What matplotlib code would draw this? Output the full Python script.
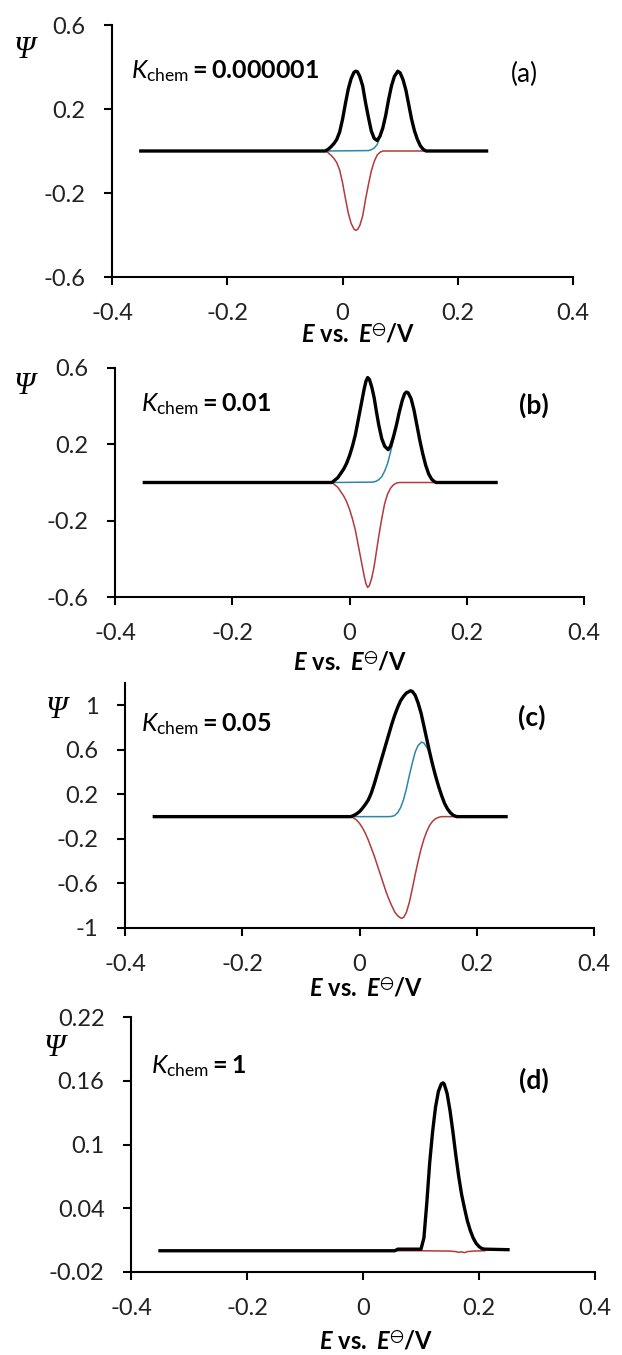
import matplotlib
matplotlib.use("Agg")
import matplotlib.pyplot as plt
from matplotlib.ticker import FixedLocator, FixedFormatter

plt.rcParams['font.family'] = ['Lato', 'DejaVu Sans']
plt.rcParams['axes.unicode_minus'] = False
plt.rcParams['mathtext.fontset'] = 'custom'
plt.rcParams['mathtext.rm'] = 'Lato'
plt.rcParams['mathtext.it'] = 'Lato:italic'
plt.rcParams['mathtext.bf'] = 'Lato:bold'
plt.rcParams['mathtext.bfit'] = 'Lato:italic:bold'
plt.rcParams['mathtext.fallback'] = 'stixsans'

# ---------------- data ----------------
x_ticks = [-0.4, -0.2, 0.0, 0.2, 0.4]
x_tick_labels = ["-0.4", "-0.2", "0", "0.2", "0.4"]

# (a) K_chem = 0.000001
e_net_a = [-0.35, -0.03, -0.025, -0.02, -0.015, -0.01, -0.005, 0.0, 0.005, 0.01, 0.015, 0.02,
           0.023, 0.026, 0.03, 0.035, 0.04, 0.045, 0.05, 0.055, 0.06, 0.065, 0.07, 0.075, 0.08,
           0.085, 0.09, 0.096, 0.1, 0.105, 0.11, 0.115, 0.12, 0.125, 0.13, 0.135, 0.14, 0.145, 0.25]
psi_net_a = [0, 0, 0.008, 0.02, 0.035, 0.055, 0.09, 0.15, 0.225, 0.295, 0.345, 0.375,
             0.38, 0.377, 0.355, 0.31, 0.23, 0.16, 0.095, 0.06, 0.05, 0.07, 0.11, 0.17, 0.245,
             0.31, 0.355, 0.38, 0.372, 0.34, 0.29, 0.22, 0.15, 0.095, 0.055, 0.025, 0.008, 0, 0]
e_rev_a = [-0.03, -0.025, -0.02, -0.015, -0.01, -0.005, 0.0, 0.005, 0.01, 0.015, 0.02, 0.023,
           0.026, 0.03, 0.035, 0.04, 0.045, 0.05, 0.055, 0.06, 0.065, 0.07, 0.145]
psi_rev_a = [0, -0.008, -0.02, -0.035, -0.055, -0.09, -0.15, -0.225, -0.295, -0.345, -0.372, -0.378,
             -0.374, -0.355, -0.31, -0.23, -0.16, -0.095, -0.05, -0.02, -0.006, 0, 0]
e_fwd_a = [-0.03, 0.045, 0.05, 0.055, 0.06, 0.065, 0.07, 0.075, 0.08, 0.085, 0.09, 0.096, 0.1,
           0.105, 0.11, 0.115, 0.12, 0.125, 0.13, 0.135, 0.14, 0.145]
psi_fwd_a = [0, 0.002, 0.006, 0.014, 0.03, 0.064, 0.11, 0.17, 0.245, 0.31, 0.355, 0.38, 0.372,
             0.34, 0.29, 0.22, 0.15, 0.095, 0.055, 0.025, 0.008, 0]

# (b) K_chem = 0.01
e_net_b = [-0.35, -0.03, -0.02, -0.01, -0.005, 0.0, 0.005, 0.01, 0.015, 0.02, 0.025, 0.028, 0.031,
           0.034, 0.038, 0.042, 0.046, 0.05, 0.055, 0.06, 0.066, 0.07, 0.075, 0.08, 0.085, 0.09,
           0.094, 0.097, 0.1, 0.105, 0.11, 0.115, 0.12, 0.125, 0.13, 0.135, 0.14, 0.145, 0.148, 0.25]
psi_net_b = [0, 0, 0.025, 0.07, 0.10, 0.14, 0.19, 0.25, 0.33, 0.41, 0.49, 0.53, 0.55,
             0.54, 0.50, 0.445, 0.37, 0.30, 0.23, 0.19, 0.172, 0.19, 0.24, 0.30, 0.37, 0.43,
             0.465, 0.474, 0.47, 0.44, 0.38, 0.30, 0.22, 0.15, 0.09, 0.045, 0.018, 0.004, 0, 0]
e_rev_b = [-0.03, -0.02, -0.01, -0.005, 0.0, 0.005, 0.01, 0.015, 0.02, 0.025, 0.028, 0.031, 0.034,
           0.038, 0.042, 0.046, 0.05, 0.055, 0.06, 0.065, 0.07, 0.075, 0.08, 0.085, 0.148]
psi_rev_b = [0, -0.025, -0.07, -0.10, -0.14, -0.19, -0.25, -0.33, -0.41, -0.49, -0.53, -0.55, -0.54,
             -0.50, -0.44, -0.36, -0.28, -0.19, -0.11, -0.06, -0.03, -0.012, -0.003, 0, 0]
e_fwd_b = [-0.03, 0.04, 0.045, 0.05, 0.055, 0.06, 0.065, 0.07, 0.075, 0.08, 0.085, 0.09, 0.094,
           0.097, 0.1, 0.105, 0.11, 0.115, 0.12, 0.125, 0.13, 0.135, 0.14, 0.145, 0.148]
psi_fwd_b = [0, 0.002, 0.006, 0.015, 0.03, 0.06, 0.10, 0.16, 0.225, 0.30, 0.37, 0.43, 0.465,
             0.474, 0.47, 0.44, 0.38, 0.30, 0.22, 0.15, 0.09, 0.045, 0.018, 0.004, 0]

# (c) K_chem = 0.05
e_net_c = [-0.35, -0.015, -0.01, -0.005, 0.0, 0.005, 0.01, 0.015, 0.02, 0.025, 0.03, 0.035, 0.04,
           0.045, 0.05, 0.055, 0.06, 0.065, 0.07, 0.075, 0.08, 0.087, 0.09, 0.095, 0.1, 0.105,
           0.11, 0.115, 0.12, 0.125, 0.13, 0.135, 0.14, 0.145, 0.15, 0.155, 0.16, 0.166, 0.25]
psi_net_c = [0, 0, 0.01, 0.025, 0.045, 0.075, 0.11, 0.15, 0.21, 0.29, 0.38, 0.47, 0.56,
             0.65, 0.74, 0.83, 0.91, 0.98, 1.04, 1.08, 1.11, 1.13, 1.125, 1.09, 1.02, 0.93,
             0.81, 0.69, 0.57, 0.46, 0.36, 0.27, 0.19, 0.12, 0.07, 0.035, 0.012, 0, 0]
e_rev_c = [-0.015, -0.01, -0.005, 0.0, 0.005, 0.01, 0.015, 0.02, 0.025, 0.03, 0.035, 0.04, 0.045,
           0.05, 0.055, 0.06, 0.065, 0.07, 0.073, 0.076, 0.08, 0.085, 0.09, 0.095, 0.1, 0.105,
           0.11, 0.115, 0.12, 0.125, 0.13, 0.135, 0.14, 0.166]
psi_rev_c = [0, -0.012, -0.03, -0.06, -0.10, -0.15, -0.21, -0.28, -0.35, -0.43, -0.51, -0.59, -0.67,
             -0.74, -0.80, -0.855, -0.89, -0.91, -0.912, -0.90, -0.86, -0.77, -0.65, -0.52, -0.40, -0.29,
             -0.20, -0.13, -0.075, -0.04, -0.018, -0.006, 0, 0]
e_fwd_c = [-0.015, 0.05, 0.055, 0.06, 0.065, 0.07, 0.075, 0.08, 0.085, 0.09, 0.095, 0.1, 0.106,
           0.11, 0.115, 0.12, 0.125, 0.13, 0.135, 0.14, 0.145, 0.15, 0.155, 0.16, 0.166]
psi_fwd_c = [0, 0, 0.002, 0.01, 0.035, 0.08, 0.15, 0.25, 0.37, 0.48, 0.58, 0.64, 0.67,
             0.66, 0.62, 0.57, 0.46, 0.36, 0.27, 0.19, 0.12, 0.07, 0.035, 0.012, 0]

# (d) K_chem = 1
e_net_d = [-0.35, 0.055, 0.06, 0.10, 0.105, 0.11, 0.115, 0.12, 0.125, 0.13, 0.135, 0.138, 0.14,
           0.145, 0.15, 0.155, 0.16, 0.165, 0.17, 0.175, 0.18, 0.185, 0.19, 0.195, 0.2, 0.205,
           0.21, 0.25]
psi_net_d = [0, 0, 0.0015, 0.0015, 0.012, 0.045, 0.083, 0.112, 0.135, 0.150, 0.157, 0.158, 0.157,
             0.148, 0.132, 0.112, 0.090, 0.070, 0.053, 0.040, 0.028, 0.019, 0.012, 0.007, 0.004, 0.002,
             0.0015, 0.001]
e_rev_d = [0.06, 0.10, 0.15, 0.16, 0.165, 0.17, 0.175, 0.18, 0.19, 0.21]
psi_rev_d = [0, 0, -0.0003, -0.0008, -0.0015, -0.001, -0.0018, -0.0008, -0.0003, 0]

panels = [
    dict(tag="(a)", tag_bold=False, k="0.000001",
         yticks=[-0.6, -0.2, 0.2, 0.6], ylabels=["-0.6", "-0.2", "0.2", "0.6"], ylim=(-0.6, 0.6),
         net=(e_net_a, psi_net_a), rev=(e_rev_a, psi_rev_a), fwd=(e_fwd_a, psi_fwd_a)),
    dict(tag="(b)", tag_bold=True, k="0.01",
         yticks=[-0.6, -0.2, 0.2, 0.6], ylabels=["-0.6", "-0.2", "0.2", "0.6"], ylim=(-0.6, 0.6),
         net=(e_net_b, psi_net_b), rev=(e_rev_b, psi_rev_b), fwd=(e_fwd_b, psi_fwd_b)),
    dict(tag="(c)", tag_bold=True, k="0.05",
         yticks=[-1, -0.6, -0.2, 0.2, 0.6, 1], ylabels=["-1", "-0.6", "-0.2", "0.2", "0.6", "1"],
         ylim=(-1.0, 1.2),
         net=(e_net_c, psi_net_c), rev=(e_rev_c, psi_rev_c), fwd=(e_fwd_c, psi_fwd_c)),
    dict(tag="(d)", tag_bold=True, k="1",
         yticks=[-0.02, 0.04, 0.1, 0.16, 0.22], ylabels=["-0.02", "0.04", "0.1", "0.16", "0.22"],
         ylim=(-0.02, 0.22),
         net=(e_net_d, psi_net_d), rev=(e_rev_d, psi_rev_d), fwd=None),
]

# ---------------- layout (pixels) ----------------
W, H = 622, 1355
boxes = [  # left, top, right, bottom of each plotting area
    (112, 25, 573, 277),
    (115, 368, 584, 597),
    (125, 683, 594, 928),
    (131, 1017, 595, 1272),
]
psi_pos = [(25, 50), (25, 387), (57, 711), (55, 1048)]
k_pos = [(131, 78), (141, 411), (141, 731), (151, 1073)]
tag_pos = [(524, 74), (534, 405), (532, 717), (534, 1080)]
xlab_pos = [(358, 334), (350, 662), (366, 988), (376, 1341)]

FWD_COLOR = "#2b86ad"
REV_COLOR = "#b23a3a"

fig = plt.figure(figsize=(W / 100, H / 100), dpi=100)

for p, box, pp, kp, tp, xp in zip(panels, boxes, psi_pos, k_pos, tag_pos, xlab_pos):
    l, t, r, b = box
    ax = fig.add_axes([l / W, 1 - b / H, (r - l) / W, (b - t) / H])
    if p["fwd"] is not None:
        ax.plot(*p["fwd"], color=FWD_COLOR, lw=1.1, zorder=2)
    ax.plot(*p["rev"], color=REV_COLOR, lw=1.1, zorder=2)
    ax.plot(*p["net"], color="black", lw=2.4, zorder=3, solid_joinstyle="round")
    ax.set_xlim(-0.4, 0.4)
    ax.set_ylim(*p["ylim"])
    ax.xaxis.set_major_locator(FixedLocator(x_ticks))
    ax.xaxis.set_major_formatter(FixedFormatter(x_tick_labels))
    ax.yaxis.set_major_locator(FixedLocator(p["yticks"]))
    ax.yaxis.set_major_formatter(FixedFormatter(p["ylabels"]))
    for s in ("top", "right"):
        ax.spines[s].set_visible(False)
    for s in ("left", "bottom"):
        ax.spines[s].set_linewidth(1.5)
    ax.tick_params(direction="out", length=6, width=1.5, labelsize=17, pad=13, colors="black")
    ax.tick_params(axis="both", labelcolor="#222222")
    ax.patch.set_alpha(0)

    fig.text(pp[0] / W, 1 - pp[1] / H, "Ψ", family=["Liberation Serif"], style="italic",
             fontsize=22, ha="center", va="center")
    fig.text(kp[0] / W, 1 - kp[1] / H, r"$K_{\mathrm{chem}}\mathbf{=" + p["k"] + "}$",
             fontsize=18, ha="left", va="baseline")
    fig.text(tp[0] / W, 1 - tp[1] / H, p["tag"], fontsize=19,
             fontweight="bold" if p["tag_bold"] else "normal", ha="center", va="center")
    fig.text(xp[0] / W, 1 - xp[1] / H,
             r"$\mathbfit{E}\ \mathbf{vs.}\ \mathbfit{E}^{\ominus}\mathbf{/V}$",
             fontsize=17, ha="center", va="center")

fig.savefig("out.png", dpi=100)
